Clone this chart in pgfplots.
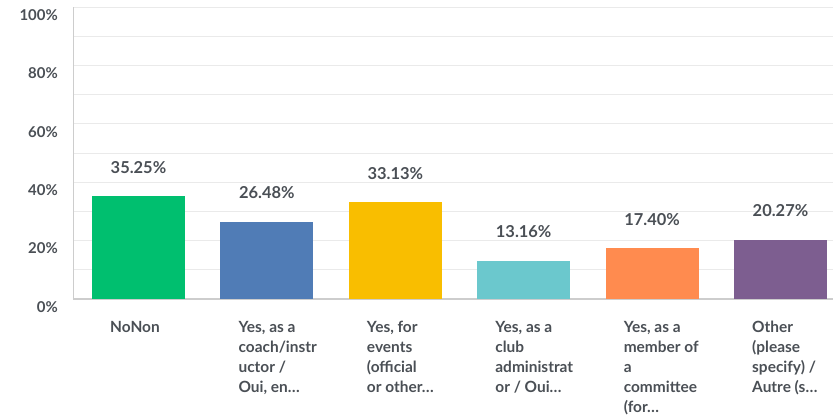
\documentclass[border=0pt]{standalone}
\usepackage{fontspec}
\setmainfont{Lato}
\usepackage{pgfplots}
\pgfplotsset{compat=1.18}

\definecolor{txt}{RGB}{74,79,85}
\definecolor{gridc}{RGB}{234,234,234}
\definecolor{axc}{RGB}{205,205,205}
\definecolor{cA}{RGB}{0,191,111}
\definecolor{cB}{RGB}{80,124,182}
\definecolor{cC}{RGB}{249,190,0}
\definecolor{cD}{RGB}{107,200,205}
\definecolor{cE}{RGB}{255,139,79}
\definecolor{cF}{RGB}{125,94,144}

\begin{document}
\begin{tikzpicture}
\begin{axis}[
    scale only axis,
    width=760bp, height=292bp,
    xmin=-0.51, xmax=5.409,
    ymin=0, ymax=100,
    axis x line=bottom, axis y line=left,
    axis line style={-, draw=axc, line width=1.2bp},
    y axis line style={line width=0.8bp},
    ybar, bar width=93bp, bar shift=0pt,
    xtick={0,1,2,3,4,5},
    xticklabels={NoNon,
        {Yes, as a\\coach/instr\\uctor /\\Oui, en…},
        {Yes, for\\events\\(official\\or other…},
        {Yes, as a\\club\\administrat\\or / Oui…},
        {Yes, as a\\member of\\a\\committee\\(for…},
        {Other\\(please\\specify) /\\Autre (s…}},
    xticklabel style={anchor=north west, align=left, inner sep=0pt,
        xshift=-28.5bp, yshift=-22bp,
        font=\fontsize{15.5}{20}\selectfont\bfseries, text=txt},
    ytick={0,20,40,60,80,100},
    minor ytick={10,30,50,70,90},
    yticklabel={\pgfmathprintnumber{\tick}\%},
    yticklabel style={anchor=east, inner sep=0pt, xshift=-15bp, yshift=-8bp,
        font=\fontsize{15}{16}\selectfont\bfseries, text=txt},
    /pgf/number format/assume math mode=true,
    major tick length=0pt, minor tick length=0pt,
    ymajorgrids, yminorgrids,
    major grid style={draw=gridc, line width=0.8bp},
    minor grid style={draw=gridc, line width=0.8bp},
    clip=false,
    nodes near coords={\pgfmathprintnumber[fixed,fixed zerofill,precision=2]{\pgfplotspointmeta}\%},
    nodes near coords style={anchor=center, yshift=29bp, inner sep=0pt,
        font=\fontsize{16.5}{18}\selectfont\bfseries, text=txt},
    every axis plot/.append style={draw=none},
]
\addplot[fill=cA] coordinates {(0,35.25)};
\addplot[fill=cB] coordinates {(1,26.48)};
\addplot[fill=cC] coordinates {(2,33.13)};
\addplot[fill=cD] coordinates {(3,13.16)};
\addplot[fill=cE] coordinates {(4,17.40)};
\addplot[fill=cF] coordinates {(5,20.27)};
\end{axis}
\pgfresetboundingbox
\path[use as bounding box] (-73bp,-120bp) rectangle (760bp,299bp);
\end{tikzpicture}
\end{document}
